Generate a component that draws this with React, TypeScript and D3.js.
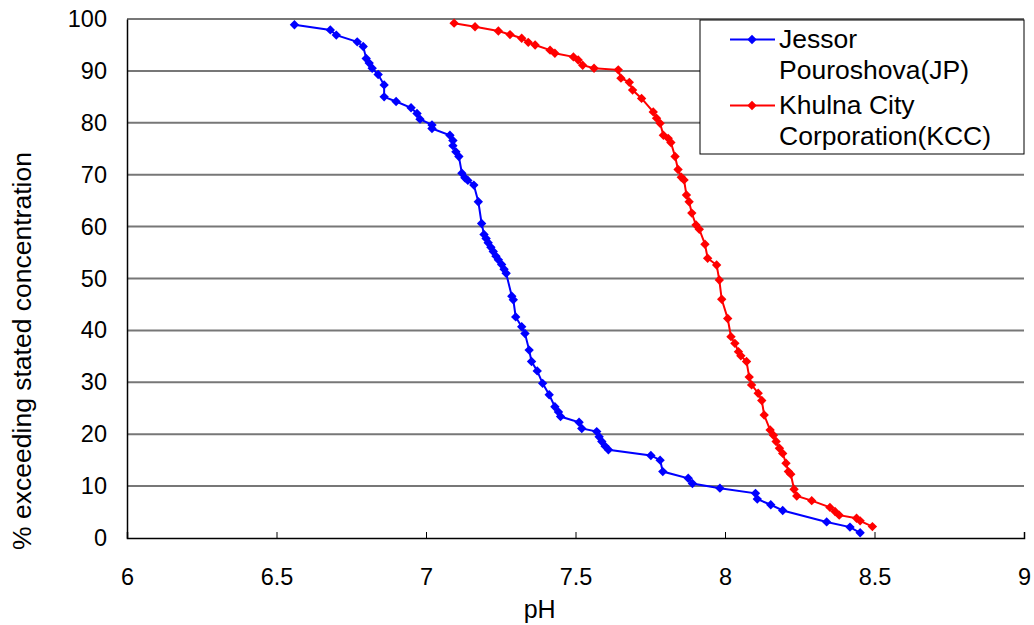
import React, { useEffect, useRef } from 'react';
import * as d3 from 'd3';

// Jessor Pouroshova (JP) - pH vs % exceeding
const jpPH = [
  6.56, 6.68, 6.70, 6.77, 6.79, 6.80, 6.81, 6.82, 6.84, 6.86, 6.86, 6.90, 6.95, 6.97, 6.98,
  7.02, 7.02, 7.08, 7.09, 7.09, 7.10, 7.11, 7.12, 7.13, 7.14, 7.16, 7.175, 7.186, 7.194, 7.201,
  7.208, 7.217, 7.225, 7.234, 7.242, 7.253, 7.261, 7.268, 7.287, 7.292, 7.30, 7.32, 7.331, 7.345,
  7.353, 7.372, 7.39, 7.412, 7.431, 7.443, 7.45, 7.512, 7.521, 7.571, 7.579, 7.588, 7.599, 7.61,
  7.752, 7.783, 7.792, 7.877, 7.891, 7.983, 8.102, 8.108, 8.153, 8.193, 8.34, 8.418, 8.452,
];
const jpPct = [
  98.9, 97.9, 96.9, 95.6, 94.7, 92.4, 91.5, 90.5, 89.3, 87.3, 85.0, 84.1, 82.9, 81.8, 80.7,
  79.6, 78.9, 77.6, 76.6, 75.6, 74.4, 73.5, 70.3, 69.4, 68.9, 68.0, 64.8, 60.6, 58.5, 57.7,
  56.9, 56.0, 55.2, 54.3, 53.6, 52.7, 51.8, 51.0, 46.6, 45.9, 42.6, 40.7, 39.4, 36.2,
  34.0, 32.2, 29.8, 27.6, 25.3, 24.3, 23.4, 22.3, 21.1, 20.5, 19.5, 18.6, 17.7, 17.0,
  15.9, 15.0, 12.8, 11.5, 10.5, 9.6, 8.6, 7.5, 6.4, 5.3, 3.1, 2.1, 1.0,
];

// Khulna City Corporation (KCC)
const kccPH = [
  7.094, 7.164, 7.242, 7.281, 7.32, 7.342, 7.365, 7.415, 7.431, 7.493, 7.509, 7.524, 7.562, 7.643,
  7.652, 7.68, 7.691, 7.721, 7.76, 7.771, 7.783, 7.794, 7.81, 7.819, 7.833, 7.843, 7.854, 7.863,
  7.871, 7.88, 7.889, 7.903, 7.914, 7.933, 7.942, 7.972, 7.981, 7.989, 8.009, 8.02, 8.033, 8.045,
  8.053, 8.072, 8.081, 8.089, 8.111, 8.123, 8.131, 8.151, 8.162, 8.171, 8.182, 8.193, 8.204, 8.212,
  8.22, 8.231, 8.24, 8.29, 8.351, 8.368, 8.382, 8.44, 8.452, 8.493,
];
const kccPct = [
  99.2, 98.5, 97.7, 97.0, 96.3, 95.5, 95.0, 94.0, 93.4, 92.7, 92.1, 91.1, 90.5, 90.2,
  88.6, 87.8, 86.3, 84.7, 82.1, 80.9, 79.9, 77.6, 77.0, 76.2, 73.5, 71.0, 69.5, 69.0,
  66.1, 64.8, 62.6, 60.3, 59.5, 56.6, 53.9, 52.6, 49.7, 46.0, 42.3, 38.8, 37.5, 35.9,
  35.1, 34.0, 31.0, 29.5, 27.9, 26.5, 23.7, 20.8, 19.8, 18.6, 17.3, 16.3, 14.4, 12.8,
  12.3, 9.4, 8.1, 7.2, 5.9, 5.1, 4.4, 3.8, 3.3, 2.2,
];

const xTicks = [6, 6.5, 7, 7.5, 8, 8.5, 9];
const yTicks = [0, 10, 20, 30, 40, 50, 60, 70, 80, 90, 100];

const series = [
  { name: ['Jessor', 'Pouroshova(JP)'], color: '#0000ff', xs: jpPH, ys: jpPct },
  { name: ['Khulna City', 'Corporation(KCC)'], color: '#ff0000', xs: kccPH, ys: kccPct },
];

const App = () => {
  const svgRef = useRef<SVGSVGElement>(null);

  useEffect(() => {
    document.body.style.margin = '0';

    const width = 1034;
    const height = 625;
    const margin = { top: 19, right: 10, bottom: 87, left: 127 };
    const innerW = width - margin.left - margin.right;
    const innerH = height - margin.top - margin.bottom;
    const font = 'Arial, "Liberation Sans", sans-serif';

    const svg = d3.select(svgRef.current);
    svg.selectAll('*').remove();
    svg.attr('width', width).attr('height', height).style('display', 'block');

    const g = svg.append('g').attr('transform', `translate(${margin.left},${margin.top})`);

    const x = d3.scaleLinear().domain([6, 9]).range([0, innerW]);
    const y = d3.scaleLinear().domain([0, 100]).range([innerH, 0]);

    // gridlines
    g.selectAll('.grid')
      .data(yTicks.filter(d => d > 0))
      .join('line')
      .attr('x1', 0)
      .attr('x2', innerW)
      .attr('y1', d => y(d))
      .attr('y2', d => y(d))
      .attr('stroke', '#777')
      .attr('stroke-width', 2);

    // axes
    const xAxis = d3.axisBottom(x).tickValues(xTicks).tickSize(-6).tickPadding(30).tickFormat(d3.format('~g'));
    const yAxis = d3.axisLeft(y).tickValues(yTicks).tickSize(0).tickPadding(20);

    const xg = g.append('g').attr('transform', `translate(0,${innerH})`).call(xAxis);
    xg.select('.domain').attr('stroke', '#000').attr('stroke-width', 1.5);
    xg.selectAll('text').attr('font-size', '23.5px').attr('font-family', font).attr('fill', '#000');

    const yg = g.append('g').call(yAxis);
    yg.select('.domain').attr('stroke', '#000').attr('stroke-width', 1.5);
    yg.selectAll('text').attr('font-size', '23.5px').attr('font-family', font).attr('fill', '#000');

    // axis titles
    svg.append('text')
      .attr('x', margin.left + x(7.38))
      .attr('y', 618)
      .attr('text-anchor', 'middle')
      .attr('font-family', font)
      .attr('font-size', '25px')
      .text('pH');

    svg.append('text')
      .attr('transform', `translate(31,351) rotate(-90)`)
      .attr('text-anchor', 'middle')
      .attr('font-family', font)
      .attr('font-size', '26.5px')
      .text('% exceeding stated concentration');

    const line = d3.line<[number, number]>()
      .x(d => x(d[0]))
      .y(d => y(d[1]));
    const marker = d3.symbol().type(d3.symbolSquare).size(44);

    series.forEach(s => {
      const pts = s.xs.map((v, i) => [v, s.ys[i]] as [number, number]);
      g.append('path')
        .datum(pts)
        .attr('d', line)
        .attr('fill', 'none')
        .attr('stroke', s.color)
        .attr('stroke-width', 2);
      g.selectAll(null)
        .data(pts)
        .join('path')
        .attr('d', marker)
        .attr('transform', d => `translate(${x(d[0])},${y(d[1])}) rotate(45)`)
        .attr('fill', s.color);
    });

    // legend
    const lg = svg.append('g').attr('transform', 'translate(700,20)');
    lg.append('rect')
      .attr('width', 324)
      .attr('height', 134)
      .attr('fill', '#fff')
      .attr('stroke', '#000')
      .attr('stroke-width', 1);

    series.forEach((s, i) => {
      const top = i * 66;
      lg.append('line')
        .attr('x1', 30).attr('x2', 75)
        .attr('y1', top + 19.5).attr('y2', top + 19.5)
        .attr('stroke', s.color)
        .attr('stroke-width', 2);
      lg.append('path')
        .attr('d', marker)
        .attr('transform', `translate(52,${top + 19.5}) rotate(45)`)
        .attr('fill', s.color);
      s.name.forEach((t, j) => {
        lg.append('text')
          .attr('x', 79)
          .attr('y', top + 28 + j * 31)
          .attr('font-family', font)
          .attr('font-size', '26.5px')
          .text(t);
      });
    });
  }, []);

  return <svg ref={svgRef} />;
};

export default App;
